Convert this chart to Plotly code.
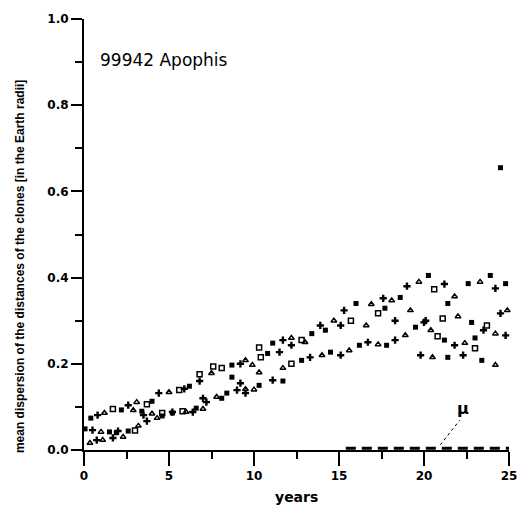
import plotly.graph_objects as go

# Filled squares
sq_x = [0.4, 2.2, 4.0, 6.2, 8.7, 11.1, 13.4, 16.0, 18.6, 20.26, 22.6, 23.9, 24.8,
        0.06, 1.5, 2.6, 4.6, 6.6, 8.4, 10.3, 12.8, 14.5, 16.2, 17.8, 19.5, 21.2, 23.0, 25.2,
        5.2, 8.7, 11.7, 14.2, 17.7, 21.4, 22.8, 21.4, 23.4, 24.5, 10.8, 8.1, 1.9, 3.4]
sq_y = [0.074, 0.093, 0.113, 0.148, 0.197, 0.248, 0.27, 0.34, 0.354, 0.405, 0.386, 0.405, 0.386,
        0.049, 0.042, 0.044, 0.079, 0.097, 0.132, 0.15, 0.208, 0.227, 0.243, 0.243, 0.285, 0.255, 0.26, 0.27,
        0.086, 0.169, 0.16, 0.278, 0.329, 0.34, 0.296, 0.215, 0.208, 0.655, 0.224, 0.12, 0.04, 0.09]

# Plus signs
pl_x = [0.8, 2.6, 4.4, 6.8, 9.2, 11.7, 13.9, 15.3, 17.6, 19.0, 21.2, 24.2,
        0.5, 2.0, 3.7, 5.2, 7.2, 9.0, 11.1, 13.3, 15.1, 16.7, 18.3, 20.0, 21.8, 23.5, 24.8,
        3.5, 6.4, 9.5, 12.2, 15.1, 18.3, 20.1, 24.5,
        0.75, 1.7, 19.8, 22.3, 7.0, 9.2, 11.5, 5.9]
pl_y = [0.081, 0.104, 0.132, 0.16, 0.2, 0.255, 0.289, 0.324, 0.352, 0.38, 0.385, 0.375,
        0.046, 0.044, 0.067, 0.088, 0.111, 0.139, 0.162, 0.215, 0.22, 0.25, 0.255, 0.296, 0.243, 0.278, 0.266,
        0.081, 0.088, 0.132, 0.243, 0.289, 0.3, 0.3, 0.317,
        0.023, 0.028, 0.22, 0.22, 0.12, 0.155, 0.227, 0.142]

# Small triangles
tr_x = [1.2, 3.1, 5.0, 7.5, 9.9, 12.2, 14.7, 16.9, 18.1, 19.7, 21.8, 23.3,
        1.0, 3.2, 4.3, 6.0, 7.8, 9.5, 11.7, 14.0, 15.6, 17.3, 18.9, 20.4, 22.4, 24.2,
        4.0, 7.0, 10.0, 13.0, 16.6, 19.2, 22.0, 24.9,
        0.35, 1.1, 2.3, 20.5, 24.2, 9.5, 10.3, 2.9]
tr_y = [0.086, 0.111, 0.134, 0.178, 0.197, 0.26, 0.3, 0.338, 0.347, 0.39, 0.356, 0.39,
        0.042, 0.056, 0.074, 0.088, 0.123, 0.141, 0.19, 0.22, 0.231, 0.245, 0.266, 0.278, 0.248, 0.27,
        0.084, 0.095, 0.14, 0.25, 0.289, 0.324, 0.31, 0.324,
        0.016, 0.023, 0.03, 0.215, 0.197, 0.208, 0.18, 0.092]

# Open squares
op_x = [1.7, 3.7, 5.6, 8.1, 10.4, 12.8, 20.6, 12.2, 20.8,
        4.6, 5.8, 7.6, 10.3, 15.7, 17.3, 21.1, 23.7, 3.0, 23.0, 6.8]
op_y = [0.095, 0.106, 0.139, 0.19, 0.215, 0.255, 0.373, 0.2, 0.264,
        0.086, 0.09, 0.194, 0.238, 0.3, 0.317, 0.305, 0.289, 0.045, 0.236, 0.176]

# mu dashed line and leader
mu_x = [15.4, 25.0]
mu_y = [0.004, 0.004]
lead_x = [20.96, 22.1]
lead_y = [0.012, 0.069]

x_ticks = [0, 5, 10, 15, 20, 25]
y_ticks = [0.0, 0.2, 0.4, 0.6, 0.8, 1.0]

fig = go.Figure()
fig.add_trace(go.Scatter(x=sq_x, y=sq_y, mode="markers", cliponaxis=False,
                         marker=dict(symbol="square", size=5, color="black")))
fig.add_trace(go.Scatter(x=pl_x, y=pl_y, mode="markers", cliponaxis=False,
                         marker=dict(symbol="cross", size=6, color="black")))
fig.add_trace(go.Scatter(x=tr_x, y=tr_y, mode="markers", cliponaxis=False,
                         marker=dict(symbol="triangle-up-open", size=5, color="black",
                                     line=dict(width=1.5, color="black"))))
fig.add_trace(go.Scatter(x=op_x, y=op_y, mode="markers", cliponaxis=False,
                         marker=dict(symbol="square-open", size=5, color="black",
                                     line=dict(width=1.5, color="black"))))
fig.add_trace(go.Scatter(x=mu_x, y=mu_y, mode="lines", cliponaxis=False,
                         line=dict(color="black", width=3, dash="10px,6px")))
fig.add_trace(go.Scatter(x=lead_x, y=lead_y, mode="lines", cliponaxis=False,
                         line=dict(color="black", width=1, dash="dot")))

font = "DejaVu Sans"
bold = dict(family=font, size=12, weight="bold")
fig.update_layout(
    width=529, height=510,
    margin=dict(l=84, r=18, t=18, b=60),
    paper_bgcolor="white", plot_bgcolor="white",
    showlegend=False,
    font=dict(family=font, color="black", size=13),
    xaxis=dict(range=[0, 25], tickvals=x_ticks, ticks="outside", ticklen=14, tickwidth=2,
               tickcolor="black", showline=True, linewidth=2, linecolor="black",
               showgrid=False, zeroline=False, tickfont=bold,
               minor=dict(dtick=2.5, ticks="outside", ticklen=7, tickwidth=2, tickcolor="black")),
    yaxis=dict(range=[0, 1.0], tickvals=y_ticks, tickformat=".1f", ticks="outside", ticklen=11,
               tickwidth=2, tickcolor="black", showline=True, linewidth=2, linecolor="black",
               showgrid=False, zeroline=False, tickfont=bold,
               minor=dict(dtick=0.1, ticks="outside", ticklen=7, tickwidth=2, tickcolor="black")),
    annotations=[
        dict(text="99942 Apophis", x=0.85, y=0.905, xref="x", yref="y", showarrow=False,
             xanchor="left", yanchor="middle", font=dict(size=17, family=font)),
        dict(text="μ", x=22.3, y=0.097, xref="x", yref="y", showarrow=False,
             xanchor="center", yanchor="middle", font=dict(size=16, family=font, weight="bold")),
        dict(text="years", x=0.5, y=-0.109, xref="paper", yref="paper", showarrow=False,
             xanchor="center", yanchor="middle", font=dict(size=14, family=font, weight="bold")),
        dict(text="mean dispersion of the distances of the clones [in the Earth radii]",
             x=-0.15, y=0.425, xref="paper", yref="paper", showarrow=False, textangle=-90,
             xanchor="center", yanchor="middle",
             font=dict(size=12, family="Liberation Sans", weight="bold")),
    ],
)

fig.write_html("out.html")
